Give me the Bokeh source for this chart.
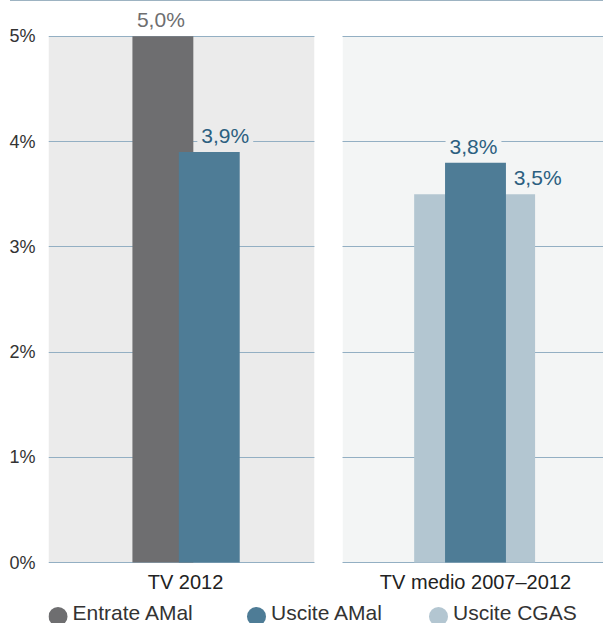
from bokeh.plotting import figure
from bokeh.models import ColumnDataSource, BoxAnnotation, FixedTicker, Div, Range1d
from bokeh.layouts import column
from bokeh.core.properties import value
from bokeh.embed import file_html
from bokeh.resources import INLINE

# ---------------- data ----------------
categories = ["TV 2012", "TV medio 2007–2012"]
series_names = ["Entrate AMal", "Uscite AMal", "Uscite CGAS"]
entrate_amal = [5.0, None]
uscite_amal = [3.9, 3.8]
uscite_cgas = [None, 3.5]
y_ticks = [0, 1, 2, 3, 4, 5]

# ---------------- styles ----------------
FONT = "Liberation Sans"
colors = {"Entrate AMal": "#6e6e70", "Uscite AMal": "#4e7c96", "Uscite CGAS": "#b3c6d1"}
label_colors = {"Entrate AMal": "#6e6e70", "Uscite AMal": "#2c5f80", "Uscite CGAS": "#2c5f80"}
panel_colors = ["#ebebeb", "#f3f5f5"]
grid_color = "#93afc3"
# bar offset from category centre / bar width (category units)
bar_offset = {"Entrate AMal": [-0.078, 0.0], "Uscite AMal": [0.082, 0.0], "Uscite CGAS": [0.0, -0.003]}
bar_width = {"Entrate AMal": 0.21, "Uscite AMal": 0.21, "Uscite CGAS": 0.417}
label_dx = {"Entrate AMal": [-2, 0], "Uscite AMal": [16, -2], "Uscite CGAS": [0, 63]}
draw_order = ["Entrate AMal", "Uscite CGAS", "Uscite AMal"]
values = {"Entrate AMal": entrate_amal, "Uscite AMal": uscite_amal, "Uscite CGAS": uscite_cgas}
X_START, X_END = -0.4724, 1.4414
GAP = (0.4448, 0.5414)
FRAME_LEFT = 48
# legend strip layout (page pixels horizontally, strip pixels vertically)
LEG_W, LEG_H = 603, 28
legend_marker_x = [57.5, 256, 438]
legend_text_gap = 14.5
legend_marker_y, legend_text_y = 7, 11

p = figure(width=603, height=594, output_backend="svg", toolbar_location=None,
           x_range=Range1d(X_START, X_END), y_range=Range1d(-0.0189, 5.3314),
           min_border_left=FRAME_LEFT, min_border_right=0, min_border_top=0, min_border_bottom=29,
           background_fill_color="white", border_fill_color="white", outline_line_color=None)

# panel backgrounds
p.add_layout(BoxAnnotation(left=X_START, right=GAP[0], bottom=0, top=y_ticks[-1],
                           fill_color=panel_colors[0], fill_alpha=1, line_color=None, level="image"))
p.add_layout(BoxAnnotation(left=GAP[1], right=X_END, bottom=0, top=y_ticks[-1],
                           fill_color=panel_colors[1], fill_alpha=1, line_color=None, level="image"))

# grid
p.xgrid.visible = False
p.ygrid.ticker = FixedTicker(ticks=y_ticks)
p.ygrid.grid_line_color = grid_color
p.ygrid.grid_line_width = 1
# gap between the panels
p.add_layout(BoxAnnotation(left=GAP[0], right=GAP[1], fill_color="white", fill_alpha=1,
                           line_color=None, level="glyph"))

# bars
for name in draw_order:
    xs, tops = [], []
    for i, v in enumerate(values[name]):
        if v is None:
            continue
        xs.append(i + bar_offset[name][i])
        tops.append(v)
    src = ColumnDataSource(dict(x=xs, top=tops))
    p.vbar(x="x", top="top", bottom=0, width=bar_width[name], source=src,
           fill_color=colors[name], line_color=None)

# value labels
lx, ly, lt, lc, ldx, lbg = [], [], [], [], [], []
for name in series_names:
    for i, v in enumerate(values[name]):
        if v is None:
            continue
        lx.append(i + bar_offset[name][i])
        ly.append(v)
        lt.append(f"{v:.1f}".replace(".", ",") + "%")
        lc.append(label_colors[name])
        ldx.append(label_dx[name][i])
        lbg.append("rgba(255,255,255,0)" if v >= y_ticks[-1] else panel_colors[i])
lsrc = ColumnDataSource(dict(x=lx, y=ly, text=lt, color=lc, dx=ldx, bg=lbg))
p.text(x="x", y="y", text="text", source=lsrc, text_color="color", x_offset="dx", y_offset=-4,
       text_align="center", text_baseline="bottom", text_font=value(FONT),
       text_font_size="21px", background_fill_color="bg",
       padding=dict(left=4, right=4, top=1, bottom=1))

# axes
p.yaxis.ticker = FixedTicker(ticks=y_ticks)
p.yaxis.major_label_overrides = {t: f"{t}%" for t in y_ticks}
p.yaxis.axis_line_color = None
p.yaxis.major_tick_line_color = None
p.yaxis.minor_tick_line_color = None
p.yaxis.major_label_standoff = 7
p.yaxis.major_label_text_font = FONT
p.yaxis.major_label_text_font_size = "18px"
p.yaxis.major_label_text_color = "#333333"

p.xaxis.ticker = FixedTicker(ticks=list(range(len(categories))))
p.xaxis.major_label_overrides = {i: c for i, c in enumerate(categories)}
p.xaxis.axis_line_color = None
p.xaxis.major_tick_line_color = None
p.xaxis.minor_tick_line_color = None
p.xaxis.major_label_standoff = 0
p.xaxis.major_label_text_font = FONT
p.xaxis.major_label_text_font_size = "20px"
p.xaxis.major_label_text_color = "#222222"

# legend strip below the chart: circle keys + series names
lf = figure(width=LEG_W, height=LEG_H, output_backend="svg", toolbar_location=None,
            x_range=Range1d(FRAME_LEFT, LEG_W), y_range=Range1d(0, LEG_H),
            x_axis_type=None, y_axis_type=None,
            min_border_left=FRAME_LEFT, min_border_right=0, min_border_top=0, min_border_bottom=0,
            outline_line_color=None, background_fill_color="white", border_fill_color="white")
lf.xgrid.visible = False
lf.ygrid.visible = False
leg_src = ColumnDataSource(dict(
    mx=legend_marker_x,
    my=[legend_marker_y] * len(series_names),
    tx=[x + legend_text_gap for x in legend_marker_x],
    ty=[legend_text_y] * len(series_names),
    name=series_names,
    color=[colors[n] for n in series_names],
))
lf.scatter(x="mx", y="my", source=leg_src, marker="circle", size=19,
           fill_color="color", line_color=None)
lf.text(x="tx", y="ty", text="name", source=leg_src, text_align="left", text_baseline="middle",
        text_font=value(FONT), text_font_size="21px", text_color="#333333")

top_line = Div(text="", width=593, height=1, margin=(0, 0, 0, 10),
               styles={"background-color": "#9db3c2"})

layout = column(top_line, p, lf, spacing=0)
open("out.html", "w").write(file_html(layout, INLINE))
